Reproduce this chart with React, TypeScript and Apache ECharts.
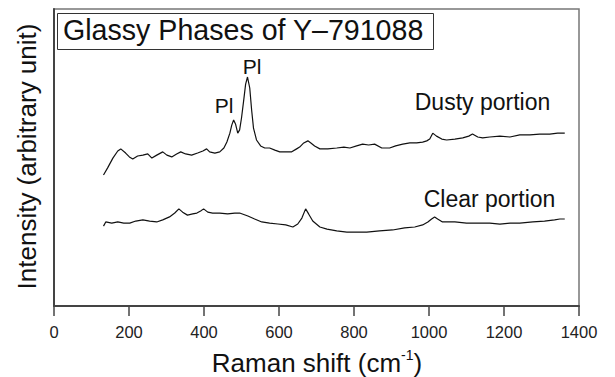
import React, { useEffect, useRef } from "react";
import * as echarts from "echarts";

const xTicks = [0, 200, 400, 600, 800, 1000, 1200, 1400];

const dustyX = [132, 143, 157, 170, 178, 191, 201, 210, 223, 237, 250, 261, 274, 290, 301, 314, 327, 338, 351, 367, 383, 397, 407, 415, 429, 442, 453, 461, 469, 474, 479, 484, 490, 495, 500, 506, 511, 516, 522, 527, 532, 540, 551, 562, 575, 589, 602, 618, 634, 647, 655, 666, 677, 685, 695, 709, 730, 754, 773, 789, 807, 823, 839, 855, 874, 895, 911, 930, 949, 967, 983, 994, 1002, 1010, 1020, 1034, 1047, 1069, 1090, 1106, 1116, 1130, 1143, 1162, 1189, 1216, 1242, 1269, 1295, 1322, 1343, 1362];
const dustyY = [44.1, 46.5, 49.8, 52.2, 52.9, 51.5, 50.2, 49.5, 50.5, 50.8, 51.2, 49.8, 50.8, 51.9, 50.8, 50.2, 51.2, 51.9, 51.2, 50.8, 51.5, 52.2, 52.9, 51.9, 51.5, 51.9, 53.2, 55.2, 58.2, 60.9, 62.6, 61.3, 58.2, 59.3, 63.3, 69.4, 74.7, 77.1, 73.4, 66.0, 59.9, 55.9, 53.9, 53.2, 53.2, 52.5, 51.9, 51.9, 51.9, 52.9, 53.5, 54.9, 55.6, 54.9, 53.9, 52.9, 52.9, 53.2, 53.5, 53.2, 53.9, 54.5, 54.2, 54.5, 53.2, 53.2, 53.9, 54.5, 54.9, 54.9, 55.2, 55.6, 56.2, 58.2, 57.2, 56.2, 55.9, 56.2, 56.6, 57.2, 57.9, 56.9, 56.6, 56.9, 57.2, 56.9, 57.6, 57.6, 57.9, 57.9, 58.2, 58.2];

const clearX = [132, 138, 154, 170, 186, 202, 218, 237, 255, 274, 290, 308, 322, 333, 343, 356, 370, 381, 391, 399, 410, 423, 442, 463, 482, 495, 517, 535, 554, 575, 597, 618, 637, 650, 661, 671, 679, 690, 709, 728, 754, 781, 807, 834, 868, 903, 935, 962, 983, 997, 1007, 1015, 1023, 1036, 1069, 1100, 1135, 1162, 1189, 1216, 1242, 1277, 1308, 1335, 1349, 1362];
const clearY = [26.9, 28.3, 27.9, 28.3, 27.9, 27.9, 28.6, 29.0, 28.6, 28.3, 29.0, 30.0, 31.3, 32.7, 31.6, 30.6, 31.0, 31.3, 32.0, 32.7, 31.6, 31.3, 31.3, 31.0, 31.3, 31.3, 30.3, 29.3, 28.3, 27.9, 27.6, 27.3, 26.6, 27.6, 29.6, 32.7, 31.0, 28.6, 26.6, 25.9, 25.3, 24.9, 24.9, 24.9, 25.3, 25.6, 26.3, 26.6, 27.3, 28.3, 29.3, 30.0, 29.3, 28.3, 28.3, 27.9, 27.9, 27.9, 27.6, 27.9, 27.9, 28.3, 28.6, 29.0, 29.3, 29.3];

const titleText = "Glassy Phases of Y–791088";
const yAxisTitle = "Intensity (arbitrary unit)";
const seriesLabels = ["Dusty portion", "Clear portion"];
const peakLabel = "Pl";

const FONT = "'Liberation Sans', Arial, Helvetica, sans-serif";

export default function App() {
  const ref = useRef<HTMLDivElement>(null);
  useEffect(() => {
    if (!ref.current) return;
    const chart = echarts.init(ref.current, null, { renderer: "svg" });
    const txt = (text: string, x: number, y: number, size: number, extra: any = {}) => ({
      type: "text",
      x,
      y,
      z: 100,
      ...extra,
      style: {
        text,
        fontSize: size,
        fontFamily: FONT,
        fill: "#111",
        align: "center",
        verticalAlign: "middle",
        textAlign: "center",
        textVerticalAlign: "middle",
      },
    });
    chart.setOption({
      animation: false,
      backgroundColor: "#fff",
      grid: {
        left: 54,
        right: 36,
        top: 9,
        bottom: 71,
        show: true,
        borderColor: "#777",
        borderWidth: 1.5,
        containLabel: false,
      },
      xAxis: {
        type: "value",
        min: xTicks[0],
        max: xTicks[xTicks.length - 1],
        interval: 200,
        axisLine: { show: true, onZero: false, lineStyle: { color: "#444", width: 2 } },
        axisTick: { show: true, inside: false, length: 10, lineStyle: { color: "#444", width: 1.5 } },
        axisLabel: {
          fontSize: 16.5,
          color: "#222",
          fontFamily: FONT,
          margin: 17,
          formatter: (v: number) => String(v),
        },
        splitLine: { show: false },
      },
      yAxis: {
        type: "value",
        min: 0,
        max: 100,
        axisLine: { show: true, lineStyle: { color: "#444", width: 2 } },
        axisTick: { show: false },
        axisLabel: { show: false },
        splitLine: { show: false },
      },
      series: [
        {
          type: "line",
          name: seriesLabels[0],
          data: dustyX.map((x, i) => [x, dustyY[i]]),
          showSymbol: false,
          lineStyle: { color: "#111", width: 1.2 },
        },
        {
          type: "line",
          name: seriesLabels[1],
          data: clearX.map((x, i) => [x, clearY[i]]),
          showSymbol: false,
          lineStyle: { color: "#111", width: 1.2 },
        },
      ],
      graphic: [
        {
          type: "rect",
          z: 99,
          shape: { x: 57.5, y: 13.5, width: 376, height: 36 },
          style: { fill: "#fff", stroke: "#333", lineWidth: 1 },
        },
        {
          type: "text",
          x: 63,
          y: 30,
          z: 100,
          style: {
            text: titleText,
            fontSize: 28.6,
            fontFamily: FONT,
            fill: "#111",
            align: "left",
            verticalAlign: "middle",
            textAlign: "left",
            textVerticalAlign: "middle",
          },
        },
        txt(peakLabel, 224, 105, 21),
        txt(peakLabel, 252, 66, 21),
        txt(seriesLabels[0], 482.5, 102, 23),
        txt(seriesLabels[1], 489.5, 199, 23),
        txt(yAxisTitle, 27, 156.5, 26, { rotation: Math.PI / 2 }),
        {
          type: "text",
          x: 317,
          y: 363,
          z: 100,
          style: {
            text: "{a|Raman shift (cm}{b|-1}{a|)}",
            fontFamily: FONT,
            fill: "#111",
            align: "center",
            verticalAlign: "middle",
            textAlign: "center",
            textVerticalAlign: "middle",
            rich: {
              a: { fontSize: 26, lineHeight: 30, fontFamily: FONT, fill: "#111" },
              b: { fontSize: 14, lineHeight: 14, verticalAlign: "top", fontFamily: FONT, fill: "#111" },
            },
          },
        },
      ],
    });
    return () => chart.dispose();
  }, []);
  return <div ref={ref} style={{ width: 615, height: 377, position: "absolute", left: 0, top: 0 }} />;
}
